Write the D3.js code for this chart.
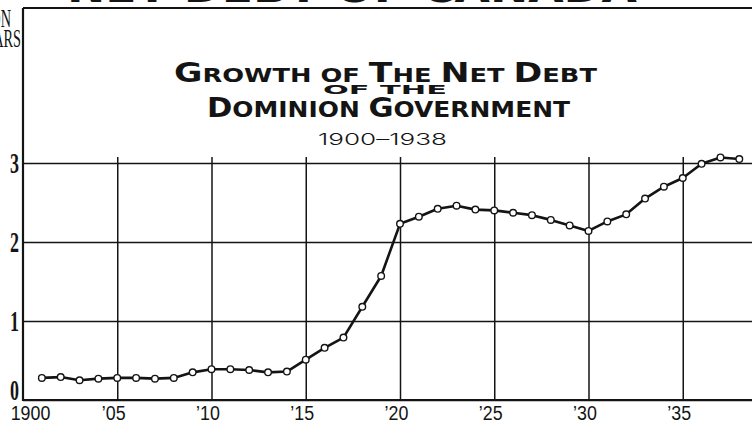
<!DOCTYPE html>
<html>
<head>
<meta charset="utf-8">
<script src="https://cdn.jsdelivr.net/npm/d3@7"></script>
<style>
    body { margin: 0; background: #fff; }
    svg { display: block; }
</style>
</head>
<body>
<svg id="chart" width="752" height="424"></svg>
<script>
const years = [1901, 1902, 1903, 1904, 1905, 1906, 1907, 1908, 1909, 1910,
    1911, 1912, 1913, 1914, 1915, 1916, 1917, 1918, 1919, 1920,
    1921, 1922, 1923, 1924, 1925, 1926, 1927, 1928, 1929, 1930,
    1931, 1932, 1933, 1934, 1935, 1936, 1937, 1938];
// net debt, billions of dollars
const netDebt = [0.28, 0.29, 0.25, 0.27, 0.28, 0.28, 0.27, 0.28, 0.35, 0.39,
    0.39, 0.38, 0.35, 0.36, 0.51, 0.66, 0.79, 1.18, 1.57, 2.23,
    2.32, 2.42, 2.46, 2.41, 2.40, 2.37, 2.34, 2.28, 2.21, 2.14,
    2.26, 2.35, 2.55, 2.70, 2.81, 2.99, 3.07, 3.05];
const xTickYears = [1900, 1905, 1910, 1915, 1920, 1925, 1930, 1935];
const xTickLabels = ['1900', '\u201905', '\u201910', '\u201915', '\u201920', '\u201925', '\u201930', '\u201935'];
const yTicks = [0, 1, 2, 3];

const ink = '#141414';
const svg = d3.select('#chart');
const width = +svg.attr('width');

const plotLeft = 23, plotTop = 8, plotBottom = 400;
const x = d3.scaleLinear().domain([1900, 1940]).range([plotLeft, 777]);
const y = d3.scaleLinear().domain([0, 3]).range([plotBottom, 163]);

svg.append('rect').attr('width', width).attr('height', 424).attr('fill', '#fff');

// cut-off heading above the frame
svg.append('text')
    .attr('x', 67).attr('y', 2)
    .attr('textLength', 570).attr('lengthAdjust', 'spacingAndGlyphs')
    .style('font', 'bold 40px "DejaVu Sans", sans-serif')
    .attr('fill', ink)
    .text('NET DEBT OF CANADA');

// cut-off unit label at left
[['BILLION', 11, 27], ['DOLLARS', 21, 47]].forEach(function (d) {
    svg.append('text')
        .attr('transform', 'translate(' + d[1] + ',' + d[2] + ') scale(0.55,1)')
        .attr('text-anchor', 'end')
        .style('font', '26px "Liberation Serif", serif')
        .attr('fill', ink)
        .text(d[0]);
});

// horizontal grid + y labels
const yAxis = svg.append('g')
    .attr('transform', 'translate(' + plotLeft + ',0)')
    .call(d3.axisLeft(y).tickValues(yTicks).tickSize(-(width - plotLeft)).tickFormat(d3.format('d')));
yAxis.select('.domain').remove();
yAxis.selectAll('.tick line').attr('stroke', ink).attr('stroke-width', 1.5);
yAxis.selectAll('.tick text')
    .attr('fill', ink)
    .attr('text-anchor', 'end')
    .attr('dy', null)
    .attr('transform', function (d) {
        return 'translate(-4,' + (d === 0 ? -1 : 9) + ') scale(0.6,1)';
    })
    .attr('x', 0)
    .attr('y', 0)
    .style('font', 'bold 30px "Liberation Serif", serif');

// vertical grid
const xGrid = svg.append('g')
    .attr('transform', 'translate(0,' + plotBottom + ')')
    .call(d3.axisBottom(x).tickValues(xTickYears.slice(1)).tickSize(-(plotBottom - 157)).tickFormat(''));
xGrid.select('.domain').remove();
xGrid.selectAll('.tick line').attr('stroke', ink).attr('stroke-width', 1.5);

// x labels
const xAxis = svg.append('g')
    .attr('transform', 'translate(0,' + plotBottom + ')')
    .call(d3.axisBottom(x).tickValues(xTickYears).tickSize(0)
        .tickFormat(function (d, i) { return xTickLabels[i]; }));
xAxis.select('.domain').remove();
xAxis.selectAll('.tick text')
    .attr('fill', ink)
    .attr('dy', null)
    .attr('y', 0)
    .attr('x', 0)
    .attr('transform', function (d) {
        return 'translate(' + (d === 1900 ? 7 : -4) + ',20) scale(0.85,1)';
    })
    .style('font', '21px "Liberation Sans", sans-serif');

// frame
svg.append('line').attr('x1', plotLeft).attr('x2', width).attr('y1', plotTop).attr('y2', plotTop)
    .attr('stroke', ink).attr('stroke-width', 2.2);
svg.append('line').attr('x1', plotLeft).attr('x2', plotLeft).attr('y1', plotTop).attr('y2', plotBottom + 1)
    .attr('stroke', ink).attr('stroke-width', 2.2);
svg.append('line').attr('x1', plotLeft).attr('x2', width).attr('y1', plotBottom).attr('y2', plotBottom)
    .attr('stroke', ink).attr('stroke-width', 2.2);

// title
const title = svg.append('g').attr('fill', ink);
function smallCaps(sel, parts, big, small) {
    parts.forEach(function (p) {
        sel.append('tspan').style('font-size', (p[1] ? big : small) + 'px').text(p[0]);
    });
}
const t1 = title.append('text')
    .attr('x', 174).attr('y', 82)
    .attr('textLength', 423).attr('lengthAdjust', 'spacingAndGlyphs')
    .style('font-family', '"DejaVu Sans", sans-serif').style('font-weight', 'bold');
smallCaps(t1, [['G', 1], ['ROWTH OF ', 0], ['T', 1], ['HE ', 0], ['N', 1], ['ET ', 0], ['D', 1], ['EBT', 0]], 27, 20);

title.append('text')
    .attr('x', 323).attr('y', 94)
    .attr('textLength', 124).attr('lengthAdjust', 'spacingAndGlyphs')
    .style('font', 'bold 13px "DejaVu Sans", sans-serif')
    .text('OF THE');

const t3 = title.append('text')
    .attr('x', 207).attr('y', 117)
    .attr('textLength', 363).attr('lengthAdjust', 'spacingAndGlyphs')
    .style('font-family', '"DejaVu Sans", sans-serif').style('font-weight', 'bold');
smallCaps(t3, [['D', 1], ['OMINION ', 0], ['G', 1], ['OVERNMENT', 0]], 27, 22);

title.append('text')
    .attr('x', 318).attr('y', 145)
    .attr('textLength', 129).attr('lengthAdjust', 'spacingAndGlyphs')
    .style('font', '300 16px Inter, "Open Sans", sans-serif')
    .text('1900\u20131938');

// data line
const pts = years.map(function (yr, i) { return [yr, netDebt[i]]; });
const line = d3.line()
    .x(function (d) { return x(d[0]); })
    .y(function (d) { return y(d[1]); });

svg.append('path')
    .datum(pts)
    .attr('fill', 'none')
    .attr('stroke', ink)
    .attr('stroke-width', 2.6)
    .attr('stroke-linejoin', 'round')
    .attr('d', line);

svg.append('g')
    .selectAll('circle')
    .data(pts)
    .enter().append('circle')
    .attr('cx', function (d) { return x(d[0]); })
    .attr('cy', function (d) { return y(d[1]); })
    .attr('r', 3.3)
    .attr('fill', '#fff')
    .attr('stroke', ink)
    .attr('stroke-width', 1.4);
</script>
</body>
</html>
